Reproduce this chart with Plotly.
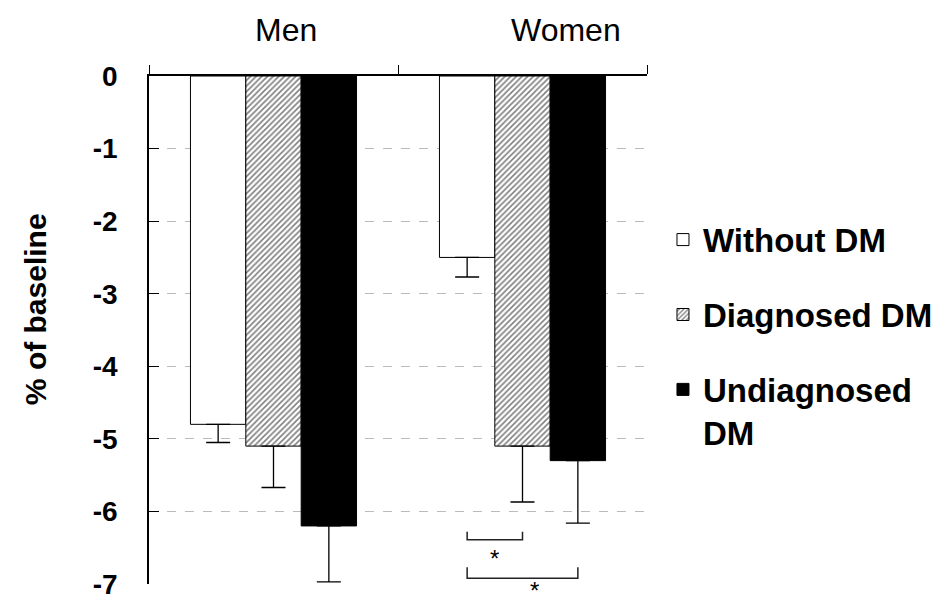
import plotly.graph_objects as go

categories = ["Men", "Women"]
category_label_dx = [0.052, 0.176]  # labels sit to the right of the group centres in the reference
series_names = ["Without DM", "Diagnosed DM", "Undiagnosed<br>DM"]
without_dm = [-4.8, -2.5]
without_dm_err = [0.25, 0.27]
diagnosed_dm = [-5.1, -5.1]
diagnosed_dm_err = [0.57, 0.77]
undiagnosed_dm = [-6.2, -5.3]
undiagnosed_dm_err = [0.77, 0.86]
y_ticks = [0, -1, -2, -3, -4, -5, -6, -7]
y_title = "% of baseline"

# significance brackets (Women group): series index from, series index to, bracket y, star y
sig_from = [0, 0]
sig_to = [1, 2]
sig_y = [-6.39, -6.92]
sig_tick = [0.11, 0.15]
sig_star_y = [-6.86, -7.3]
sig_star_dx = [0.0, 0.05]

FONT = "Liberation Sans, Arial, sans-serif"
Y_MIN, Y_MAX = -7, 0
bargap = 0.333
bar_w = (1 - bargap) / 3

fig = go.Figure()
styles = [
    dict(color="white", line=dict(color="black", width=1)),
    dict(color="white", line=dict(color="black", width=1),
         pattern=dict(shape="/", fgcolor="black", bgcolor="white", size=4, solidity=0.4)),
    dict(color="black", line=dict(color="black", width=1)),
]
vals = [without_dm, diagnosed_dm, undiagnosed_dm]
errs = [without_dm_err, diagnosed_dm_err, undiagnosed_dm_err]
for i in range(3):
    fig.add_trace(go.Bar(
        x=categories, y=vals[i], name=series_names[i], marker=styles[i],
        legendgroup=str(i),
        error_y=dict(type="data", symmetric=False, array=[0, 0], arrayminus=errs[i],
                     color="black", thickness=1.3, width=12),
    ))

women_idx = categories.index("Women")
for f, t, y, tk, sy, dx in zip(sig_from, sig_to, sig_y, sig_tick, sig_star_y, sig_star_dx):
    x0 = women_idx + (f - 1) * bar_w
    x1 = women_idx + (t - 1) * bar_w
    fig.add_shape(type="path", xref="x", yref="y",
                  path=f"M {x0} {y+tk} L {x0} {y} L {x1} {y} L {x1} {y+tk}",
                  line=dict(color="#222", width=1.5))
    fig.add_annotation(x=(x0 + x1) / 2 + dx, y=(sy - Y_MIN) / (Y_MAX - Y_MIN),
                       xref="x", yref="paper", text="*",
                       showarrow=False, font=dict(family=FONT, size=24, color="black"))

# category labels above the top axis
for idx, (cat, dx) in enumerate(zip(categories, category_label_dx)):
    fig.add_annotation(x=idx + dx, y=1.09, xref="x", yref="paper", text=cat,
                       showarrow=False, xanchor="center", yanchor="middle",
                       font=dict(family=FONT, size=32, color="black"))

# y-axis title as a rotated annotation (placed like the reference, slightly above centre)
fig.add_annotation(x=-0.229, y=0.541, xref="paper", yref="paper", text=y_title,
                   textangle=-90, showarrow=False, xanchor="center", yanchor="middle",
                   font=dict(family=FONT, size=30, color="black", weight="bold"))

fig.update_layout(
    width=941, height=601,
    margin=dict(l=141, r=301, t=68, b=25),
    paper_bgcolor="white", plot_bgcolor="white",
    barmode="group", bargap=bargap, bargroupgap=0,
    font=dict(family=FONT, color="black"),
    legend=dict(x=1.03, y=0.733, xanchor="left", yanchor="top", valign="top",
                font=dict(family=FONT, size=33, color="black", weight="bold"),
                tracegroupgap=29, itemwidth=30, bgcolor="rgba(0,0,0,0)"),
    xaxis=dict(side="top", showline=True, linecolor="black", linewidth=1.5,
               ticks="outside", tickson="boundaries", ticklen=9, tickcolor="black",
               showticklabels=False, showgrid=False,
               zeroline=False, automargin=False),
    yaxis=dict(range=[Y_MIN, Y_MAX], tickvals=y_ticks, ticktext=[str(v) for v in y_ticks],
               showline=True, linecolor="black", linewidth=1.5,
               ticks="inside", ticklen=10, tickcolor="black",
               tickfont=dict(family=FONT, size=28, color="black", weight="bold"),
               showgrid=True, gridcolor="#bbbbbb", griddash="dash", gridwidth=1,
               zeroline=False, ticklabelstandoff=24, automargin=False),
)

fig.write_html("out.html")
